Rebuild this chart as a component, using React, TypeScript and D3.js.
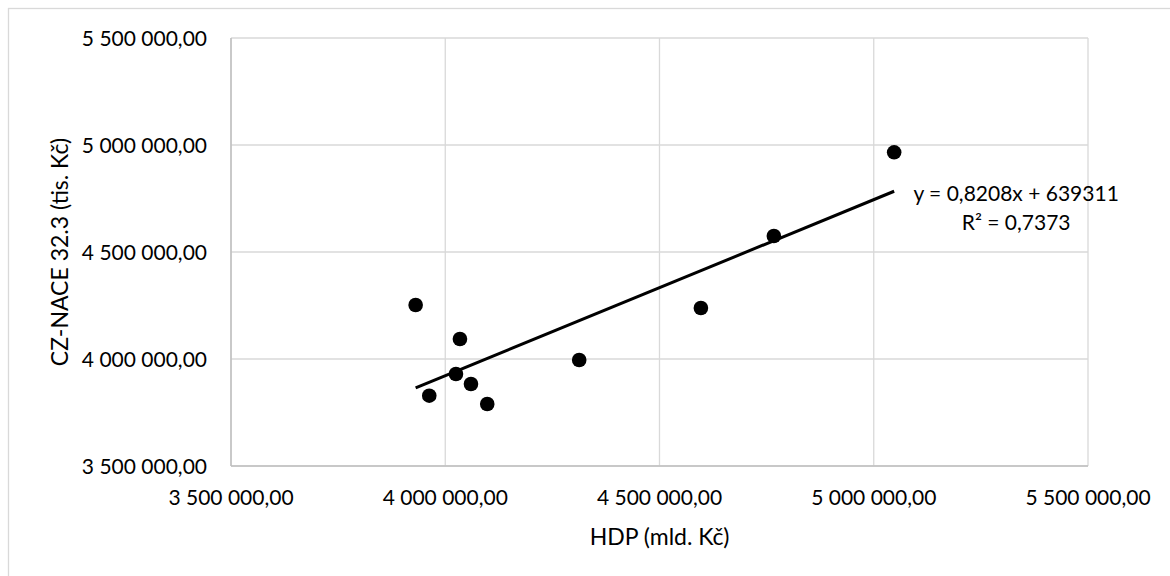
import React from "react";
import * as d3 from "d3";

// Data
const hdp = [3930900, 4034300, 4025000, 3962700, 4060000, 4098000, 4312600, 4596600, 4766900, 5047600];
const nace = [4252300, 4093500, 3929900, 3828500, 3883200, 3789700, 3995300, 4238300, 4574800, 4965900];
const xTicks = [3500000, 4000000, 4500000, 5000000, 5500000];
const yTicks = [3500000, 4000000, 4500000, 5000000, 5500000];
const trendLabel = ["y = 0,8208x + 639311", "R² = 0,7373"];
const xTitle = "HDP (mld. Kč)";
const yTitle = "CZ-NACE 32.3 (tis. Kč)";

const W = 1170;
const H = 576;
const M = { left: 231, right: 1088, top: 38, bottom: 466 };
const FONT = "Lato, 'Liberation Sans', sans-serif";

const locale = d3.formatLocale({ decimal: ",", thousands: " ", grouping: [3], currency: ["", ""] });
const fmt = locale.format(",.2f");

export default function App() {
  const x = d3.scaleLinear().domain([3500000, 5500000]).range([M.left, M.right]);
  const y = d3.scaleLinear().domain([3500000, 5500000]).range([M.bottom, M.top]);

  // least squares trend line
  const mx = d3.mean(hdp)!;
  const my = d3.mean(nace)!;
  let sxy = 0, sxx = 0;
  hdp.forEach((v, i) => { sxy += (v - mx) * (nace[i] - my); sxx += (v - mx) ** 2; });
  const slope = sxy / sxx;
  const intercept = my - slope * mx;
  const [x0, x1] = d3.extent(hdp) as [number, number];
  const line = d3.line<number>().x((d) => x(d)).y((d) => y(slope * d + intercept));

  const endX = x(x1);
  const endY = y(slope * x1 + intercept);

  return (
    <svg width={W} height={H} style={{ position: "absolute", left: 0, top: 0, background: "#fff" }} fontFamily={FONT}>
      <rect x={8.5} y={8.5} width={W + 20} height={H + 20} fill="#fff" stroke="#d9d9d9" strokeWidth={1.3} />
      {/* gridlines */}
      {xTicks.map((t) => (
        <line key={"gx" + t} x1={x(t)} x2={x(t)} y1={M.top} y2={M.bottom} stroke="#d9d9d9" strokeWidth={1.3} />
      ))}
      {yTicks.map((t) => (
        <line key={"gy" + t} x1={M.left} x2={M.right} y1={y(t)} y2={y(t)} stroke="#d9d9d9" strokeWidth={1.3} />
      ))}
      {/* axes */}
      <line x1={M.left} x2={M.left} y1={M.top} y2={M.bottom} stroke="#bfbfbf" strokeWidth={1.5} />
      <line x1={M.left} x2={M.right} y1={M.bottom} y2={M.bottom} stroke="#bfbfbf" strokeWidth={1.5} />
      {/* tick labels */}
      {yTicks.map((t) => (
        <text key={"ty" + t} x={M.left - 24} y={y(t) + 7.5} textAnchor="end" fontSize={21} fill="#000">
          {fmt(t)}
        </text>
      ))}
      {xTicks.map((t) => (
        <text key={"tx" + t} x={x(t)} y={505} textAnchor="middle" fontSize={21} fill="#000">
          {fmt(t)}
        </text>
      ))}
      {/* titles */}
      <text x={(M.left + M.right) / 2} y={545} textAnchor="middle" fontSize={23} fill="#000">
        {xTitle}
      </text>
      <text transform={`translate(68,${(M.top + M.bottom) / 2}) rotate(-90)`} textAnchor="middle" fontSize={23} fill="#000">
        {yTitle}
      </text>
      {/* trend line */}
      <path d={line([x0, x1]) || ""} fill="none" stroke="#000" strokeWidth={3} />
      {/* points */}
      {hdp.map((v, i) => (
        <circle key={i} cx={x(v)} cy={y(nace[i])} r={7.3} fill="#000" />
      ))}
      {/* trend label */}
      <text x={endX + 122} y={endY + 10} textAnchor="middle" fontSize={21} fill="#000">
        {trendLabel[0]}
      </text>
      <text x={endX + 122} y={endY + 39} textAnchor="middle" fontSize={21} fill="#000">
        {trendLabel[1]}
      </text>
    </svg>
  );
}
